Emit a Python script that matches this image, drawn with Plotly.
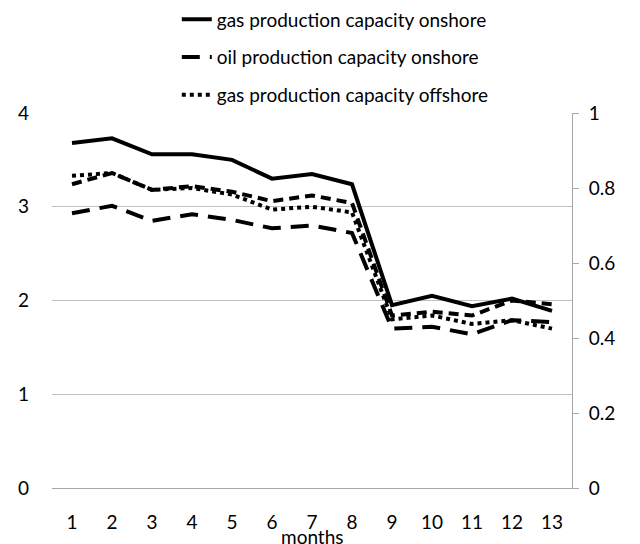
import plotly.graph_objects as go

months = list(range(1, 14))
tick_labels = [str(m) for m in months]

gas_onshore = [3.68, 3.73, 3.56, 3.56, 3.50, 3.30, 3.35, 3.24, 1.95, 2.05, 1.94, 2.02, 1.89]
oil_onshore = [2.93, 3.01, 2.85, 2.92, 2.86, 2.77, 2.80, 2.72, 1.70, 1.72, 1.64, 1.79, 1.77]
gas_offshore = [3.33, 3.36, 3.18, 3.20, 3.13, 2.97, 3.00, 2.94, 1.80, 1.84, 1.75, 1.79, 1.70]
oil_offshore = [0.81, 0.84, 0.795, 0.805, 0.79, 0.765, 0.78, 0.76, 0.46, 0.47, 0.46, 0.50, 0.49]

FONT = "Lato"
fig = go.Figure()
fig.add_trace(go.Scatter(x=tick_labels, y=gas_onshore, mode="lines",
                         name="gas production capacity onshore", legendgroup="a",
                         line=dict(color="black", width=4, dash="solid")))
fig.add_trace(go.Scatter(x=tick_labels, y=oil_onshore, mode="lines",
                         name="oil production capacity onshore", legendgroup="b",
                         line=dict(color="black", width=4, dash="18px,10px")))
fig.add_trace(go.Scatter(x=tick_labels, y=gas_offshore, mode="lines",
                         name="gas production capacity offshore", legendgroup="c",
                         line=dict(color="black", width=4, dash="4px,4px")))
fig.add_trace(go.Scatter(x=tick_labels, y=oil_offshore, mode="lines", yaxis="y2",
                         name="oil production capacity offshore", legendgroup="d",
                         showlegend=False,
                         line=dict(color="black", width=4, dash="10px,6px")))

# page body has an 8px margin, so the figure is 8px smaller than the window
fig.update_layout(
    width=632, height=536,
    margin=dict(l=44, r=68, t=105, b=56, autoexpand=False),
    paper_bgcolor="white", plot_bgcolor="white",
    font=dict(family=FONT, size=19, color="black"),
    showlegend=True,
    legend=dict(x=0.24, y=1.30, xanchor="left", yanchor="top",
                traceorder="grouped", tracegroupgap=10,
                font=dict(family=FONT, size=19), bgcolor="rgba(0,0,0,0)"),
    xaxis=dict(type="category", range=[-0.5, 12.5], showgrid=False, showline=True,
               linecolor="#a6a6a6", linewidth=1, ticks="", ticklabelstandoff=17,
               zeroline=False, tickfont=dict(size=19)),
    yaxis=dict(range=[0, 4], dtick=1, showgrid=True, gridcolor="#c0c0c0", gridwidth=1,
               showline=False, ticks="", zeroline=False, ticklabelstandoff=22,
               tickfont=dict(size=19)),
    yaxis2=dict(range=[0, 1], dtick=0.2, overlaying="y", side="right", showgrid=False,
                showline=True, linecolor="#a6a6a6", linewidth=1, ticks="outside",
                ticklen=6, tickcolor="#a6a6a6", zeroline=False, ticklabelstandoff=6,
                tickfont=dict(size=19)),
    annotations=[dict(text="months", x=0.5, y=-0.13, xref="paper", yref="paper",
                      xanchor="center", yanchor="middle", showarrow=False,
                      font=dict(family=FONT, size=19))],
)

fig.write_html("out.html")
